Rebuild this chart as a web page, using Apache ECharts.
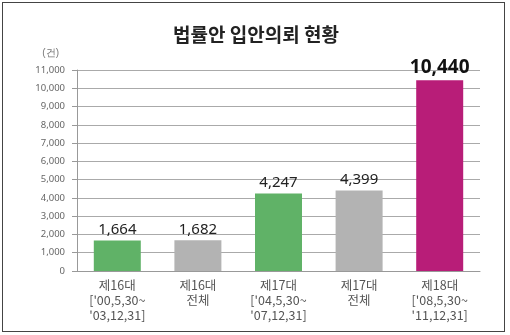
<!DOCTYPE html>
<html><head><meta charset="utf-8">
<script src="https://cdn.jsdelivr.net/npm/echarts@6/dist/echarts.min.js"></script>
<style>
html,body{margin:0;padding:0;background:#fff;}
#frame{position:absolute;left:2px;top:2px;width:503px;height:330px;border:1.5px solid #444;box-sizing:border-box;}
#c{position:absolute;left:0;top:0;width:510px;height:335px;}
</style></head>
<body><div id="frame"></div><div id="c"></div>
<script>
const categories = ["제16대\n['00,5,30~\n'03,12,31]", "제16대\n전체", "제17대\n['04,5,30~\n'07,12,31]", "제17대\n전체", "제18대\n['08,5,30~\n'11,12,31]"];
const values = [1664, 1682, 4247, 4399, 10440];
const barColors = ["#60b267", "#b3b3b3", "#60b267", "#b3b3b3", "#b81d78"];
const yTicks = [0, 11000, 1000];

const fmt = v => String(v).replace(/\B(?=(\d{3})+(?!\d))/g, ",");
const chart = echarts.init(document.getElementById('c'));
chart.setOption({
  animation: false,
  title: { text: "법률안 입안의뢰 현황", left: 251, textAlign: 'center', top: 20,
    textStyle: { fontSize: 19, fontWeight: 'bold', color: '#222', fontFamily: 'Noto Sans CJK KR' } },
  grid: { left: 77, right: 30, top: 70, bottom: 64 },
  xAxis: { type: 'category', data: categories,
    axisLine: { lineStyle: { color: '#999' } }, axisTick: { show: false },
    axisLabel: { color: '#555', fontSize: 12.5, lineHeight: 15, margin: 7, fontFamily: 'Noto Sans CJK KR' } },
  yAxis: { type: 'value', min: yTicks[0], max: yTicks[1], interval: yTicks[2],
    name: '(건)', nameLocation: 'end', nameGap: 12,
    nameTextStyle: { color: '#777', fontSize: 10, align: 'right', padding: [0, 18, 0, 0] },
    axisLine: { show: true, lineStyle: { color: '#999' } },
    axisTick: { show: true, length: 5, lineStyle: { color: '#999' } },
    splitLine: { lineStyle: { color: '#aaa' } },
    axisLabel: { color: '#666', fontSize: 9.5, margin: 12, formatter: fmt, fontFamily: 'Noto Sans' } },
  series: [{ type: 'bar', barWidth: 47,
    data: values.map((v, i) => ({ value: v, itemStyle: { color: barColors[i] },
      label: i === 4 ? { fontSize: 19, fontWeight: 'bold', color: '#111' } : {} })),
    label: { show: true, position: 'top', distance: 3, formatter: p => fmt(p.value),
      fontSize: 15, color: '#222', fontFamily: 'Noto Sans' } }]
});
</script></body></html>
